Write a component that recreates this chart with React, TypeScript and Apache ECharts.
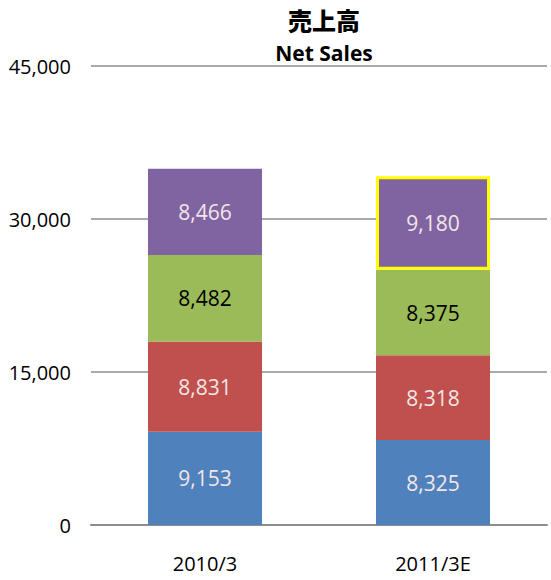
import React, { useEffect, useRef } from "react";
import * as echarts from "echarts";

const categories = ["2010/3", "2011/3E"];
const seriesNames = ["Q1", "Q2", "Q3", "Q4"];
const q1 = [9153, 8325];
const q2 = [8831, 8318];
const q3 = [8482, 8375];
const q4 = [8466, 9180];
const yTicks = [0, 15000, 30000, 45000];

const colors = ["#4f81bd", "#c0504d", "#9bbb59", "#8064a2"];
const labelColors = ["#f2e6e6", "#f2e6e6", "#000000", "#f2e6e6"];

export default function App() {
  const ref = useRef<HTMLDivElement>(null);
  useEffect(() => {
    if (!ref.current) return;
    const chart = echarts.init(ref.current, null, { renderer: "svg" });
    const font = "'Open Sans', 'Noto Sans', sans-serif";
    const all = [q1, q2, q3, q4];
    const series = all.map((vals, i) => ({
      name: seriesNames[i],
      type: "bar",
      stack: "total",
      barWidth: "50%",
      data: vals.map((v, j) => {
        const item: any = { value: v };
        if (i === 3 && j === 1) {
          item.itemStyle = { borderColor: "#ffff00", borderWidth: 3 };
        }
        return item;
      }),
      itemStyle: { color: colors[i] },
      label: {
        show: true,
        position: "inside",
        color: labelColors[i],
        fontFamily: font,
        fontSize: 21,
        formatter: (p: any) => Number(p.value).toLocaleString("en-US"),
      },
    }));
    chart.setOption({
      animation: false,
      title: {
        text: "売上高",
        subtext: "Net Sales",
        left: 319,
        textAlign: "center",
        top: 2,
        itemGap: 12,
        textStyle: {
          fontFamily: "'Noto Sans CJK JP', sans-serif",
          fontWeight: 900,
          fontSize: 24,
          color: "#000",
        },
        subtextStyle: {
          fontFamily: font,
          fontWeight: "bold",
          fontSize: 21,
          color: "#000",
        },
      },
      grid: { left: 91, right: 4, top: 66, bottom: 55 },
      xAxis: {
        type: "category",
        data: categories,
        axisTick: { show: false },
        axisLine: { show: true, lineStyle: { color: "#8c8c8c", width: 2 } },
        axisLabel: {
          color: "#000",
          fontFamily: font,
          fontSize: 20,
          margin: 28,
        },
      },
      yAxis: {
        type: "value",
        min: 0,
        max: 45000,
        interval: 15000,
        axisLine: { show: false },
        axisTick: { show: false },
        splitLine: { lineStyle: { color: "#8c8c8c", width: 1.5 } },
        axisLabel: {
          color: "#000",
          fontFamily: font,
          fontSize: 20,
          margin: 20,
          formatter: (v: number) =>
            yTicks.includes(v) ? v.toLocaleString("en-US") : "",
        },
      },
      series,
    });
    return () => chart.dispose();
  }, []);
  return (
    <div
      ref={ref}
      style={{ position: "absolute", left: 0, top: 0, width: 551, height: 580 }}
    />
  );
}
